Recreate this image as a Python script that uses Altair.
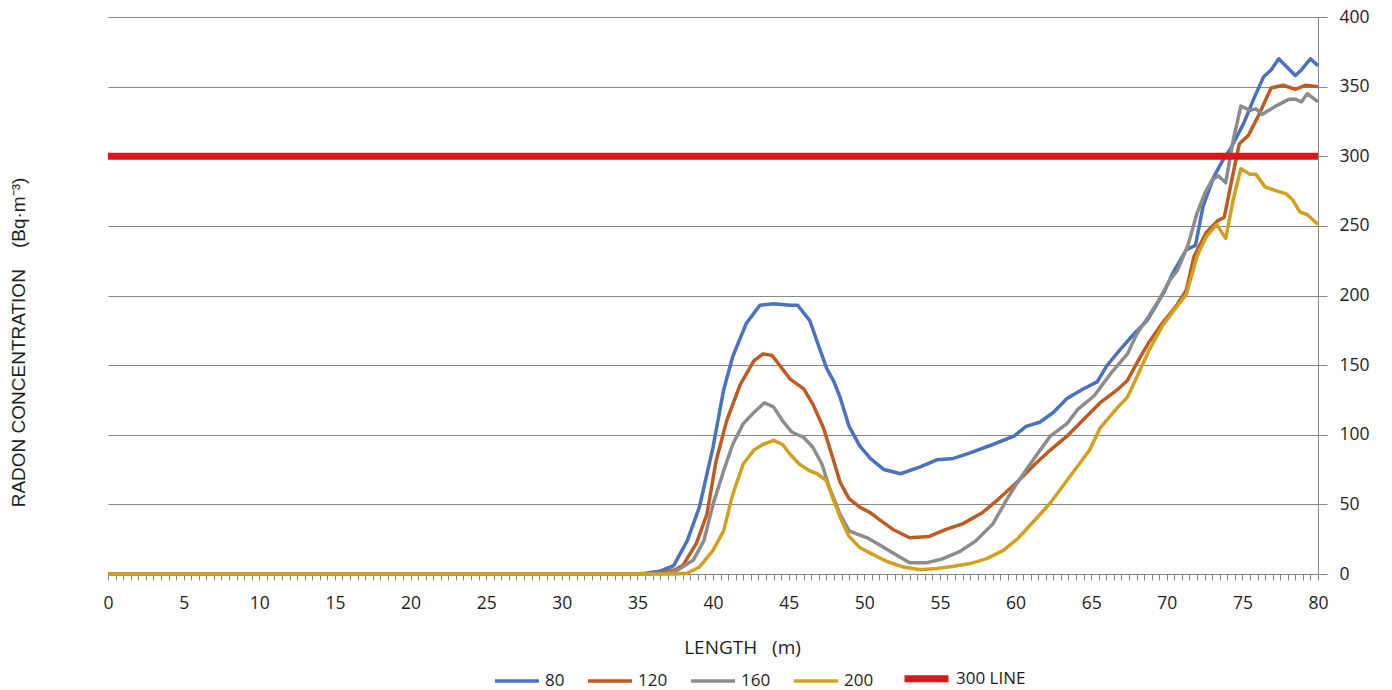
import altair as alt
import pandas as pd

# ---- data (length in m, radon in Bq/m3) ----
SERIES = ["80", "120", "160", "200", "300 LINE"]
COLORS = ["#4A72BF", "#BD5B22", "#8C8C8C", "#CFA11E", "#D7191C"]
WIDTHS = [3.5, 3.5, 3.5, 3.5, 7]

LEN_80 = [0, 35, 35.5, 36.5, 37.4, 38.3, 39.1, 40.0, 40.7, 41.3, 42.2, 43.1, 44.0, 45.1, 45.6, 46.4,
          47.5, 48.0, 48.4, 49.0, 49.7, 50.4, 51.3, 52.4, 53.7, 54.8, 55.9, 57.0, 58.5, 59.9, 60.7,
          61.6, 62.5, 63.4, 64.5, 65.4, 66.0, 66.9, 67.8, 68.7, 69.3, 69.8, 70.4, 71.3, 71.9, 72.4,
          73.1, 73.7, 74.3, 75.1, 75.7, 76.4, 76.9, 77.4, 78.5, 78.9, 79.5, 80]
RN_80 = [0, 0, 0.5, 2, 6, 24, 48, 91, 132, 156, 180, 193, 194, 193, 193, 182,
         148, 138, 127, 106, 92, 83, 75, 72, 77, 82, 83, 87, 93, 99, 106,
         109, 116, 126, 133, 138, 149, 161, 172, 182, 193, 202, 216, 233, 236, 264,
         285, 297, 307, 324, 340, 357, 362, 370, 358, 362, 370, 365]

LEN_120 = [0, 35, 36.5, 37.5, 38.0, 38.9, 39.6, 40.2, 40.9, 41.8, 42.7, 43.3, 43.9, 44.4, 45.1, 46.0,
           46.6, 47.3, 47.9, 48.4, 49.0, 49.7, 50.4, 51.0, 51.9, 53.0, 54.3, 55.4, 56.5, 57.8, 58.9,
           60.2, 61.3, 62.3, 63.4, 64.5, 65.6, 66.7, 67.4, 68.0, 68.8, 69.7, 70.6, 71.3, 71.8, 72.6,
           73.4, 73.8, 74.3, 74.8, 75.4, 76.1, 76.9, 77.7, 78.5, 79.2, 80]
RN_120 = [0, 0, 0.5, 3, 6, 22, 43, 81, 110, 136, 153, 158, 157, 150, 140, 133,
          122, 105, 84, 66, 54, 48, 44, 39, 32, 26, 27, 32, 36, 44, 54,
          67, 79, 89, 99, 111, 123, 132, 139, 151, 166, 180, 192, 204, 228, 245,
          254, 256, 283, 309, 315, 330, 349, 351, 348, 351, 350]

LEN_160 = [0, 35, 37.0, 37.6, 38.7, 39.4, 40.0, 40.7, 41.3, 42.0, 42.7, 43.4, 44.0, 44.6, 45.2, 46.0,
           46.6, 47.2, 47.7, 48.4, 49.0, 49.7, 50.2, 51.0, 51.9, 53.0, 54.1, 55.2, 56.3, 57.4, 58.5,
           59.4, 60.2, 61.3, 62.3, 63.4, 64.1, 65.2, 66.3, 67.4, 68.0, 68.8, 69.5, 70.2, 70.7, 71.4,
           72.0, 72.5, 73.0, 73.4, 73.9, 74.4, 74.9, 75.5, 75.9, 76.3, 77.2, 78.1, 78.5, 78.9, 79.3, 80]
RN_160 = [0, 0, 0.5, 2.4, 10, 24, 50, 74, 93, 108, 116, 123, 120, 110, 102, 98,
          91, 79, 62, 43, 31, 28, 26, 21, 15, 8, 8, 11, 16, 24, 36,
          53, 67, 84, 99, 108, 118, 128, 144, 158, 172, 185, 197, 211, 218, 236,
          259, 273, 283, 286, 281, 312, 336, 333, 334, 330, 336, 341, 341, 339, 345, 339]

LEN_200 = [0, 37.5, 38.3, 39.1, 40.0, 40.7, 41.3, 42.0, 42.7, 43.3, 44.0, 44.6, 45.1, 45.7, 46.4, 46.9,
           47.5, 47.9, 48.4, 49.0, 49.7, 50.4, 51.5, 52.6, 53.7, 54.8, 55.9, 57.0, 58.1, 59.2, 60.2,
           61.3, 62.3, 63.6, 64.9, 65.6, 66.7, 67.4, 68.0, 68.8, 69.7, 70.6, 71.3, 72.0, 72.6, 73.3,
           73.9, 74.4, 74.9, 75.5, 75.9, 76.5, 77.3, 77.9, 78.3, 78.8, 79.3, 80]
RN_200 = [0, 0, 0.5, 5, 17, 31, 57, 79, 89, 93, 96, 93, 86, 79, 74, 72,
          67, 55, 41, 27, 19, 15, 9, 5, 3, 4, 5.5, 7.5, 11, 17, 26,
          39, 51, 70, 89, 105, 119, 127, 141, 160, 178, 191, 201, 228, 242, 251,
          241, 269, 291, 287, 287, 278, 275, 273, 269, 260, 258, 251]

LEN_300 = [0, 80]
RN_300 = [300, 300]

X_TICKS = [i * 0.5 for i in range(161)]
Y_TICKS = [0, 50, 100, 150, 200, 250, 300, 350, 400]

rows = []
for name, xs, ys in [("80", LEN_80, RN_80), ("120", LEN_120, RN_120), ("160", LEN_160, RN_160),
                     ("200", LEN_200, RN_200), ("300 LINE", LEN_300, RN_300)]:
    for x, y in zip(xs, ys):
        rows.append({"series": name, "length": x, "radon": y})
df = pd.DataFrame(rows)

GRID = "#878787"
LBL_FONT = "Open Sans"
TXT = "#1e1e1e"


def make_legend():
    return alt.Legend(
        title=None, orient="none", direction="horizontal", legendX=385, legendY=636,
        symbolType="stroke", symbolSize=1936,
        labelFont=LBL_FONT, labelFontSize=17, labelColor=TXT,
        columnPadding=16, labelOffset=4, padding=0,
    )


chart = alt.Chart(df).mark_line(strokeJoin="round").encode(
    x=alt.X("length:Q",
            scale=alt.Scale(domain=[0, 80], nice=False, zero=False),
            axis=alt.Axis(values=X_TICKS, grid=False,
                          labelExpr="datum.value % 5 === 0 ? format(datum.value, 'd') : ''",
                          labelOverlap=False, labelFlush=False, labelFont=LBL_FONT, labelFontSize=17.5,
                          labelColor=TXT, labelPadding=14, tickSize=6, tickColor=GRID,
                          domainColor=GRID, title="LENGTH\u00a0\u00a0\u00a0(m)", titleFont=LBL_FONT,
                          titleFontSize=19, titleFontWeight="normal", titleColor=TXT,
                          titleX=634, titleY=79, titleBaseline="alphabetic", titleAlign="center")),
    y=alt.Y("radon:Q",
            scale=alt.Scale(domain=[0, 400], nice=False),
            axis=alt.Axis(orient="right", values=Y_TICKS, grid=True, gridColor=GRID, gridWidth=1,
                          labelFont=LBL_FONT, labelFontSize=17.5, labelColor=TXT, labelPadding=12,
                          tickSize=9, tickColor=GRID, domainColor=GRID,
                          title="RADON CONCENTRATION\u00a0\u00a0\u00a0\u00a0(Bq\u00b7m\u207b\u00b3)",
                          titleFont="Liberation Sans", titleFontSize=19, titleFontWeight="normal",
                          titleColor=TXT, titleAngle=270, titleX=-1300, titleY=325,
                          titleBaseline="middle", titleAlign="center")),
    color=alt.Color("series:N", scale=alt.Scale(domain=SERIES, range=COLORS), legend=make_legend()),
    strokeWidth=alt.StrokeWidth("series:N", scale=alt.Scale(type="ordinal", domain=SERIES, range=WIDTHS),
                                legend=make_legend()),
    order=alt.Order("length:Q"),
).properties(
    width=1210, height=557,
    autosize=alt.AutoSizeParams(type="none"),
    padding={"left": 108, "top": 17, "right": 74, "bottom": 116},
    background="white",
).configure_view(stroke=None)

chart.save("out.html", embed_options={"renderer": "svg", "actions": False})
